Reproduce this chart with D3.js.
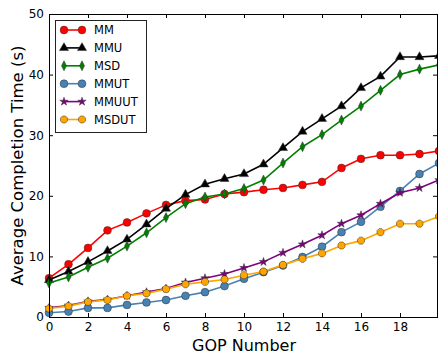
<!DOCTYPE html>
<html>
<head>
<meta charset="utf-8">
<script src="https://cdn.jsdelivr.net/npm/d3@7"></script>
<style>
  body { margin: 0; background: #fff; }
  text { font-family: "DejaVu Sans", sans-serif; }
</style>
</head>
<body>
<script>
// data
const gop = d3.range(0, 21);
const seriesNames = ["MM", "MMU", "MSD", "MMUT", "MMUUT", "MSDUT"];
const mm    = [6.4, 8.7, 11.4, 14.3, 15.6, 17.1, 18.5, 19.2, 19.4, 20.3, 20.6, 21.0, 21.3, 21.8, 22.3, 24.6, 26.1, 26.7, 26.7, 26.9, 27.4];
const mmu   = [6.1, 7.5, 9.1, 10.9, 12.8, 15.3, 17.9, 20.2, 21.9, 22.8, 23.6, 25.2, 27.9, 30.6, 32.7, 34.8, 37.8, 39.7, 42.9, 42.9, 43.1];
const msd   = [5.6, 6.6, 8.2, 9.7, 11.7, 13.9, 16.4, 18.7, 19.8, 20.3, 21.2, 22.6, 25.4, 28.1, 30.1, 32.5, 34.8, 37.4, 40.0, 40.9, 41.6];
const mmut  = [0.7, 0.9, 1.5, 1.5, 2.0, 2.4, 2.8, 3.5, 4.1, 5.1, 6.3, 7.4, 8.5, 9.9, 11.6, 14.0, 15.7, 18.2, 20.8, 23.6, 25.4];
const mmuut = [1.5, 1.9, 2.6, 2.9, 3.5, 4.1, 4.7, 5.7, 6.4, 7.1, 8.1, 9.1, 10.6, 12.0, 13.5, 15.4, 16.8, 18.7, 20.5, 21.3, 22.6];
const msdut = [1.4, 1.8, 2.5, 2.8, 3.5, 3.9, 4.6, 5.4, 5.8, 6.2, 6.9, 7.5, 8.6, 9.6, 10.5, 11.8, 12.6, 14.0, 15.4, 15.4, 16.6];
const xTicks = [0, 2, 4, 6, 8, 10, 12, 14, 16, 18];
const yTicks = [0, 10, 20, 30, 40, 50];

const colors  = ["#ff0000", "#000000", "#008000", "#4682b4", "#800080", "#ffa500"];
const symbols = [d3.symbolCircle, d3.symbolTriangle, "diamond", d3.symbolCircle, d3.symbolStar, "octagon"];
const sizes   = [48, 36, 0, 48, 22, 40];
const allValues = [mm, mmu, msd, mmut, mmuut, msdut];

const W = 438, H = 354;
const margin = {top: 14, right: -1, bottom: 37, left: 49};

const svg = d3.select("body").append("svg")
    .attr("width", W)
    .attr("height", H);

const x = d3.scaleLinear().domain([0, 20]).range([margin.left, W - margin.right]);
const y = d3.scaleLinear().domain([0, 50]).range([H - margin.bottom, margin.top]);

const plot = svg.append("g");

// axes, ticks inward like matplotlib
svg.append("g")
    .attr("transform", `translate(0,${y(0)})`)
    .call(d3.axisBottom(x).tickValues(xTicks).tickSizeInner(-4).tickSizeOuter(0).tickPadding(5))
    .call(g => g.selectAll("text").attr("font-size", 12).attr("fill", "#000"));
svg.append("g")
    .attr("transform", `translate(0,${y(50)})`)
    .call(d3.axisTop(x).tickValues(xTicks).tickSizeInner(-4).tickSizeOuter(0).tickFormat(""));
svg.append("g")
    .attr("transform", `translate(${x(0)},0)`)
    .call(d3.axisLeft(y).tickValues(yTicks).tickSizeInner(-4).tickSizeOuter(0).tickPadding(5))
    .call(g => g.selectAll("text").attr("font-size", 12).attr("fill", "#000"));
svg.append("g")
    .attr("transform", `translate(${W - 1},0)`)
    .call(d3.axisRight(y).tickValues(yTicks).tickSizeInner(-4).tickSizeOuter(0).tickFormat(""));
svg.selectAll(".domain").attr("stroke", "#000");
svg.selectAll(".tick line").attr("stroke", "#000");

function symbolPath(s, size) {
  if (s === "diamond") return "M0,-5L2.5,0L0,5L-2.5,0Z";
  if (s === "octagon") {
    const r = 3.8;
    return d3.range(8).map((i, k) => {
      const a = Math.PI / 8 + i * Math.PI / 4;
      return (k ? "L" : "M") + (r * Math.cos(a)).toFixed(2) + "," + (r * Math.sin(a)).toFixed(2);
    }).join("") + "Z";
  }
  return d3.symbol(s, size)();
}

const line = d3.line().x((d, i) => x(gop[i])).y(d => y(d));

allValues.forEach((vals, k) => {
  plot.append("path")
      .attr("d", line(vals))
      .attr("fill", "none")
      .attr("stroke", colors[k])
      .attr("stroke-width", 1.6);
  plot.selectAll(null)
    .data(vals)
    .join("path")
      .attr("transform", (d, i) => `translate(${x(gop[i])},${y(d)})`)
      .attr("d", symbolPath(symbols[k], sizes[k]))
      .attr("fill", colors[k])
      .attr("stroke", "#333")
      .attr("stroke-width", 0.5);
});

// legend
const leg = svg.append("g");
leg.append("rect")
    .attr("x", 55.5).attr("y", 20.5)
    .attr("width", 91).attr("height", 112)
    .attr("fill", "#fff").attr("stroke", "#222").attr("stroke-width", 1);
seriesNames.forEach((name, k) => {
  const yy = 30 + k * 17.9;
  leg.append("line")
      .attr("x1", 64).attr("x2", 82).attr("y1", yy).attr("y2", yy)
      .attr("stroke", colors[k]).attr("stroke-width", 1.6);
  [64, 82].forEach(xx => {
    leg.append("path")
        .attr("transform", `translate(${xx},${yy})`)
        .attr("d", symbolPath(symbols[k], sizes[k]))
        .attr("fill", colors[k]).attr("stroke", "#333").attr("stroke-width", 0.5);
  });
  leg.append("text")
      .attr("x", 94).attr("y", yy)
      .attr("dy", "0.36em")
      .attr("font-size", 11.5)
      .text(name);
});

// axis titles
svg.append("text")
    .attr("x", (x(0) + x(20)) / 2)
    .attr("y", 351)
    .attr("text-anchor", "middle")
    .attr("font-size", 16)
    .text("GOP Number");

svg.append("text")
    .attr("transform", `translate(23,${(y(0) + y(50)) / 2}) rotate(-90)`)
    .attr("text-anchor", "middle")
    .attr("font-size", 16.5)
    .text("Average Completion Time (s)");
</script>
</body>
</html>
